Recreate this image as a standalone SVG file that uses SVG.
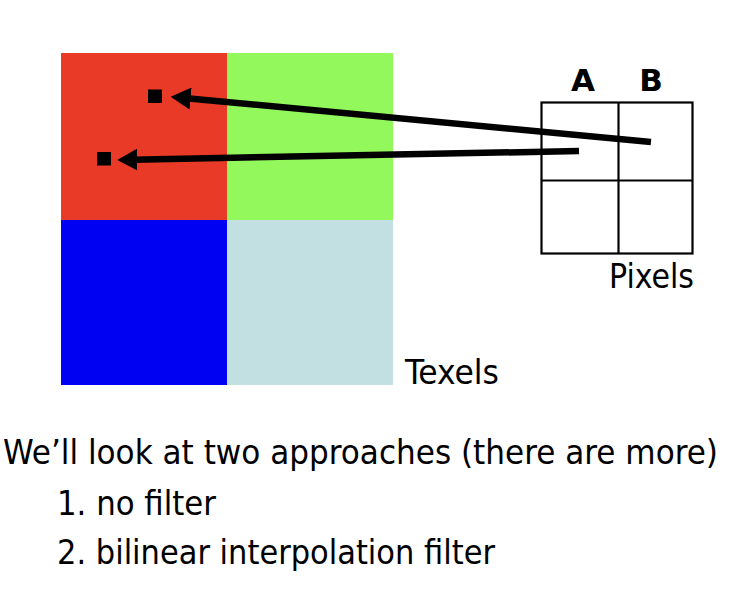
<svg xmlns="http://www.w3.org/2000/svg" width="752" height="604" viewBox="0 0 752 604">
<defs>
<style>
.lbl{font-family:"DejaVu Sans Condensed","DejaVu Sans",sans-serif;font-stretch:condensed;fill:#000}
.hdr{font-family:"DejaVu Sans","Liberation Sans",sans-serif;font-weight:bold;fill:#000;font-size:31px;text-anchor:middle}
.grid{fill:none;stroke:#000;stroke-width:2.2}
.arrow{stroke:#000;stroke-width:6.5;fill:none;marker-end:url(#ah)}
.dot{fill:#000}
</style>
<marker id="ah" markerUnits="userSpaceOnUse" markerWidth="20" markerHeight="22" viewBox="0 0 20 22" refX="4" refY="11" orient="auto">
<path d="M0,0 L20,11 L0,22 z" fill="#000"/>
</marker>
</defs>
<rect width="752" height="604" fill="#fff"/>
<g id="texels">
<rect x="61" y="53" width="166" height="167" fill="#e83a27"/>
<rect x="227" y="53" width="166" height="167" fill="#93f85c"/>
<rect x="61" y="220" width="166" height="165" fill="#0000f2"/>
<rect x="227" y="220" width="166" height="165" fill="#c2dfe1"/>
<rect class="dot" x="148" y="89.5" width="14" height="13.5"/>
<rect class="dot" x="97" y="152" width="14" height="13.5"/>
<text class="lbl" x="405" y="384" font-size="34" textLength="94" lengthAdjust="spacingAndGlyphs">Texels</text>
</g>
<g id="pixels">
<rect class="grid" x="541.5" y="102.5" width="151" height="151"/>
<line class="grid" x1="618.5" y1="102.5" x2="618.5" y2="253.5"/>
<line class="grid" x1="541.5" y1="180.5" x2="692.5" y2="180.5"/>
<text class="hdr" x="583" y="91">A</text>
<text class="hdr" x="651" y="91">B</text>
<text class="lbl" x="609" y="288" font-size="34" textLength="85" lengthAdjust="spacingAndGlyphs">Pixels</text>
</g>
<g id="connectors">
<line class="arrow" x1="651" y1="142" x2="186.6" y2="98.2"/>
<line class="arrow" x1="579" y1="151" x2="133.3" y2="159.7"/>
</g>
<g id="caption">
<text class="lbl" x="3" y="464" font-size="33" textLength="715" lengthAdjust="spacingAndGlyphs">We’ll look at two approaches (there are more)</text>
<text class="lbl" x="57" y="515" font-size="33" textLength="159" lengthAdjust="spacingAndGlyphs">1. no filter</text>
<text class="lbl" x="57" y="564" font-size="33" textLength="438" lengthAdjust="spacingAndGlyphs">2. bilinear interpolation filter</text>
</g>
</svg>
